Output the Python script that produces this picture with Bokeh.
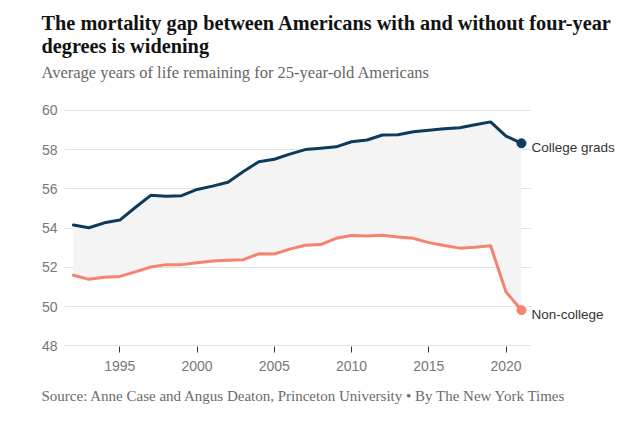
from bokeh.plotting import figure
from bokeh.models import Range1d, FixedTicker, Label, ColumnDataSource, Title
from bokeh.embed import file_html
from bokeh.resources import INLINE

years = list(range(1992, 2022))
college = [54.16, 54.02, 54.27, 54.41, 55.05, 55.67, 55.62, 55.65, 55.97, 56.14,
           56.34, 56.88, 57.38, 57.51, 57.77, 58.00, 58.07, 58.14, 58.40, 58.49,
           58.74, 58.76, 58.91, 58.98, 59.06, 59.11, 59.26, 59.41, 58.69, 58.32]
noncollege = [51.60, 51.39, 51.50, 51.54, 51.77, 52.02, 52.14, 52.14, 52.23, 52.33,
              52.36, 52.39, 52.69, 52.68, 52.93, 53.13, 53.16, 53.48, 53.62, 53.60,
              53.64, 53.55, 53.48, 53.26, 53.11, 52.98, 53.03, 53.10, 50.75, 49.82]
x_ticks = [1995, 2000, 2005, 2010, 2015, 2020]
y_ticks = [48, 50, 52, 54, 56, 58, 60]
series_names = ["College grads", "Non-college"]

title_lines = ["The mortality gap between Americans with and without four-year",
               "degrees is widening"]
subtitle = "Average years of life remaining for 25-year-old Americans"
source_text = "Source: Anne Case and Angus Deaton, Princeton University"
credit_text = "By The New York Times"

NAVY = "#0e3a5c"
SALMON = "#f7826e"

src = ColumnDataSource(data=dict(year=years, college=college, noncollege=noncollege))

p = figure(width=620, height=428, output_backend="svg", toolbar_location=None,
           x_range=Range1d(1991.42, 2027.41), y_range=Range1d(47.97, 60.5),
           min_border_left=64, min_border_right=0, min_border_top=0,
           min_border_bottom=0)
p.outline_line_color = None

p.varea(x="year", y1="noncollege", y2="college", source=src, fill_color="#f4f4f4")
p.line(x="year", y="college", source=src, line_color=NAVY, line_width=3,
       line_join="round", line_cap="round")
p.line(x="year", y="noncollege", source=src, line_color=SALMON, line_width=3,
       line_join="round", line_cap="round")
p.scatter(x=[years[-1]], y=[college[-1]], size=9, color=NAVY)
p.scatter(x=[years[-1]], y=[noncollege[-1]], size=9, color=SALMON)

for yv, name in [(college[-1], series_names[0]), (noncollege[-1], series_names[1])]:
    p.add_layout(Label(x=years[-1], y=yv, text=name, x_offset=10, y_offset=-4,
                       text_font="Liberation Sans", text_font_size="13.5px",
                       text_color="#333333", text_baseline="middle", text_align="left"))

p.xaxis.ticker = FixedTicker(ticks=x_ticks)
p.xaxis.axis_line_color = None
p.xaxis.major_tick_line_color = "#333333"
p.xaxis.major_tick_out = 6
p.xaxis.major_tick_in = 0
p.xaxis.minor_tick_line_color = None
p.xaxis.minor_tick_out = 0
p.xaxis.major_label_standoff = 8
p.xaxis.major_label_text_font = "Liberation Sans"
p.xaxis.major_label_text_font_size = "14px"
p.xaxis.major_label_text_color = "#777777"

p.yaxis.ticker = FixedTicker(ticks=y_ticks)
p.yaxis.axis_line_color = None
p.yaxis.major_tick_line_color = None
p.yaxis.major_tick_out = 0
p.yaxis.major_tick_in = 0
p.yaxis.minor_tick_line_color = None
p.yaxis.minor_tick_out = 0
p.yaxis.major_label_standoff = 7
p.yaxis.major_label_text_font = "Liberation Sans"
p.yaxis.major_label_text_font_size = "14px"
p.yaxis.major_label_text_color = "#777777"

p.xgrid.grid_line_color = None
p.ygrid.ticker = FixedTicker(ticks=y_ticks)
p.ygrid.grid_line_color = "#e3e3e3"
p.ygrid.grid_line_width = 1
p.ygrid.cross_bounds = (1991.42, 2021.64)

# ---- titles above (first added = closest to the plot) ----
p.add_layout(Title(text=" ", text_font="Liberation Serif", text_font_size="10px",
                   standoff=11.5), "above")
p.add_layout(Title(text=subtitle, text_font="Liberation Serif", text_font_size="16.5px",
                   text_font_style="normal", text_color="#666666", align="left",
                   offset=-23, vertical_align="top", standoff=-16.0), "above")
p.add_layout(Title(text="\n".join(title_lines), text_font="Liberation Serif",
                   text_font_size="20.3px", text_font_style="bold",
                   text_color="#121212", align="left", offset=-23,
                   vertical_align="top", standoff=23.8, text_line_height=1.024),
             "above")

# ---- footer below the x axis ----
p.add_layout(Title(text=source_text + "  \u2022   " + credit_text,
                   text_font="Liberation Serif", text_font_size="15px",
                   text_font_style="normal", text_color="#6b6b6b", align="left",
                   offset=-23, vertical_align="top", standoff=29.3), "below")
p.add_layout(Title(text=" ", text_font="Liberation Serif", text_font_size="3px",
                   standoff=2.4), "below")

open("out.html", "w").write(file_html(p, INLINE))
